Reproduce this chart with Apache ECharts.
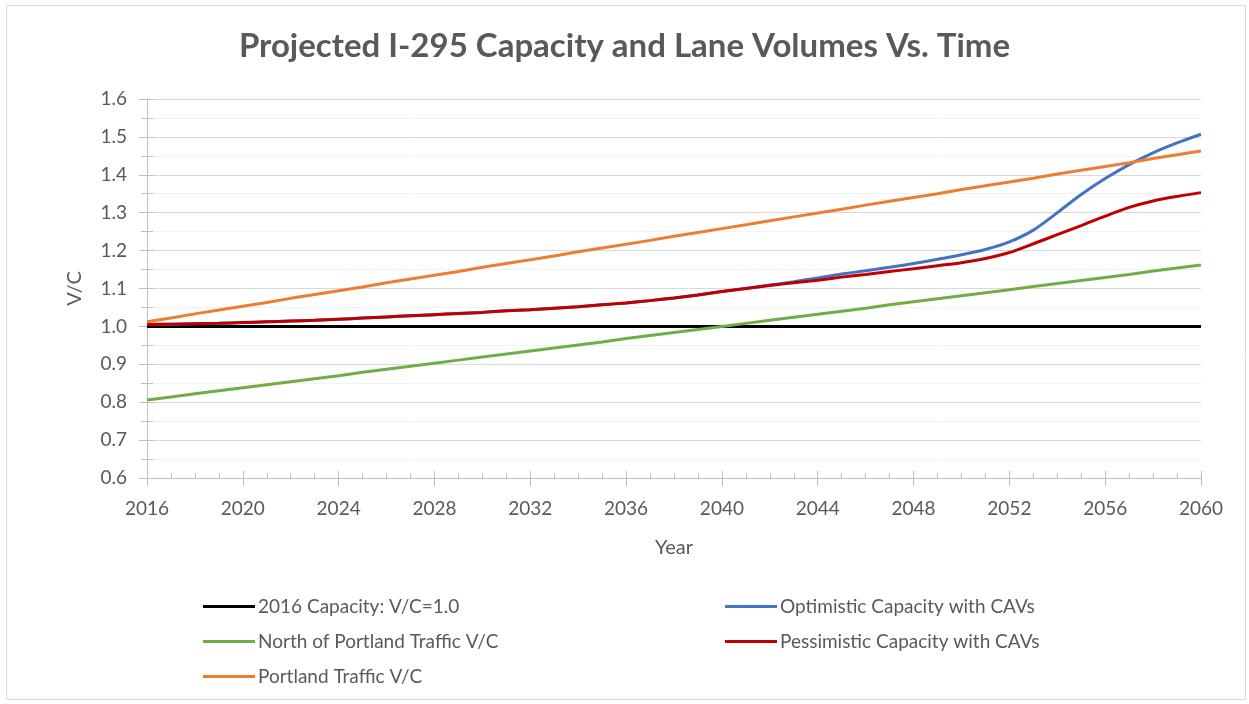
<!DOCTYPE html>
<html>
<head>
<meta charset="utf-8">
<title>Projected I-295 Capacity and Lane Volumes Vs. Time</title>
<script src="https://cdn.jsdelivr.net/npm/echarts@6.0.0/dist/echarts.min.js"></script>
<style>
	html, body { margin: 0; padding: 0; background: #fff; }
	#echart { width: 1249px; height: 704px; }
</style>
</head>
<body>
<div id="echart"></div>
<script>
// years on the x axis, one value per year
var years = [2016,2017,2018,2019,2020,2021,2022,2023,2024,2025,2026,2027,2028,2029,2030,
	2031,2032,2033,2034,2035,2036,2037,2038,2039,2040,2041,2042,2043,2044,2045,
	2046,2047,2048,2049,2050,2051,2052,2053,2054,2055,2056,2057,2058,2059,2060];

var capacity2016 = [1.0,1.0,1.0,1.0,1.0,1.0,1.0,1.0,1.0,1.0,1.0,1.0,1.0,1.0,1.0,
	1.0,1.0,1.0,1.0,1.0,1.0,1.0,1.0,1.0,1.0,1.0,1.0,1.0,1.0,1.0,
	1.0,1.0,1.0,1.0,1.0,1.0,1.0,1.0,1.0,1.0,1.0,1.0,1.0,1.0,1.0];

var optimisticCAV = [1.005,1.006,1.007,1.008,1.010,1.012,1.014,1.016,1.019,1.022,1.025,1.028,1.031,1.034,1.037,
	1.041,1.044,1.048,1.052,1.057,1.062,1.068,1.075,1.083,1.092,1.100,1.109,1.118,1.128,1.138,
	1.147,1.156,1.166,1.177,1.189,1.203,1.223,1.254,1.300,1.348,1.390,1.427,1.458,1.484,1.507];

var northPortland = [0.806,0.814,0.822,0.830,0.838,0.846,0.854,0.862,0.870,0.879,0.887,0.895,0.903,0.911,0.919,
	0.927,0.935,0.943,0.951,0.959,0.968,0.976,0.984,0.992,1.000,1.008,1.016,1.024,1.032,1.040,
	1.048,1.057,1.065,1.073,1.081,1.089,1.097,1.105,1.113,1.121,1.129,1.137,1.146,1.154,1.162];

var pessimisticCAV = [1.005,1.006,1.007,1.008,1.010,1.012,1.014,1.016,1.019,1.022,1.025,1.028,1.031,1.034,1.037,
	1.041,1.044,1.048,1.052,1.057,1.062,1.068,1.075,1.083,1.092,1.100,1.108,1.115,1.122,1.130,
	1.137,1.145,1.152,1.160,1.168,1.179,1.195,1.218,1.242,1.266,1.291,1.314,1.331,1.343,1.353];

var portlandTraffic = [1.012,1.022,1.033,1.043,1.053,1.063,1.074,1.084,1.094,1.104,1.115,1.125,1.135,1.145,1.156,
	1.166,1.176,1.186,1.197,1.207,1.217,1.227,1.238,1.248,1.258,1.268,1.279,1.289,1.299,1.309,
	1.320,1.330,1.340,1.350,1.361,1.371,1.381,1.391,1.402,1.412,1.422,1.432,1.443,1.453,1.463];

var seriesNames = ['2016 Capacity: V/C=1.0', 'Optimistic Capacity with CAVs', 'North of Portland Traffic V/C',
	'Pessimistic Capacity with CAVs', 'Portland Traffic V/C'];
var seriesColors = ['#000000', '#4472C4', '#70AD47', '#C00000', '#ED7D31'];

var FONT = 'Lato, "Open Sans", sans-serif';
var TEXT_COLOR = '#595959';

function pairs(values){
	var out = [];
	for (var i = 0; i < years.length; i++) {
		out.push([years[i], values[i]]);
	}
	return out;
}

function lineSeries(idx, values, smooth){
	return {
		name: seriesNames[idx],
		type: 'line',
		xAxisIndex: 0,
		yAxisIndex: 0,
		data: pairs(values),
		smooth: smooth,
		showSymbol: false,
		symbol: 'none',
		lineStyle: { color: seriesColors[idx], width: 3 },
		itemStyle: { color: seriesColors[idx] },
		z: 2 + idx
	};
}

function showChart(){
	var myChart = echarts.init(document.getElementById('echart'));
	var option = {
		backgroundColor: '#ffffff',
		animation: false,
		title: {
			text: 'Projected I-295 Capacity and Lane Volumes Vs. Time',
			left: 'center',
			top: 25,
			textStyle: { fontFamily: FONT, fontSize: 33, fontWeight: 'bold', color: TEXT_COLOR }
		},
		graphic: [{
			type: 'rect',
			shape: { x: 6.5, y: 5.5, width: 1239, height: 694 },
			style: { fill: 'none', stroke: '#d9d9d9', lineWidth: 1 },
			silent: true
		}],
		legend: [{
			orient: 'vertical',
			left: 203,
			top: 597,
			padding: 0,
			itemWidth: 52,
			itemHeight: 3,
			itemGap: 16,
			icon: 'rect',
			data: [seriesNames[0], seriesNames[2], seriesNames[4]],
			textStyle: { fontFamily: FONT, fontSize: 19, color: TEXT_COLOR, padding: [0, 0, 0, -2] }
		},{
			orient: 'vertical',
			left: 725,
			top: 597,
			padding: 0,
			itemWidth: 52,
			itemHeight: 3,
			itemGap: 16,
			icon: 'rect',
			data: [seriesNames[1], seriesNames[3]],
			textStyle: { fontFamily: FONT, fontSize: 19, color: TEXT_COLOR, padding: [0, 0, 0, -2] }
		}],
		grid: { left: 147, right: 48, top: 99, bottom: 226 },
		xAxis: [{
			type: 'value',
			min: 2016,
			max: 2060,
			interval: 4,
			name: 'Year',
			nameLocation: 'middle',
			nameGap: 60,
			nameTextStyle: { fontFamily: FONT, fontSize: 20, color: TEXT_COLOR },
			axisLine: { show: true, onZero: false, lineStyle: { color: '#bfbfbf', width: 1 } },
			axisTick: { show: true, length: 8, lineStyle: { color: '#bfbfbf' } },
			minorTick: { show: false },
			axisLabel: { margin: 21, fontFamily: FONT, fontSize: 19, color: TEXT_COLOR,
				formatter: function(v){ return String(v); } },
			splitLine: { show: false }
		},{
			type: 'value',
			position: 'bottom',
			min: 2016,
			max: 2060,
			interval: 4,
			axisLine: { show: false },
			axisTick: { show: true, inside: true, length: 7, lineStyle: { color: '#bfbfbf' } },
			minorTick: { show: true, splitNumber: 4, length: 5, lineStyle: { color: '#bfbfbf' } },
			axisLabel: { show: false },
			splitLine: { show: false }
		}],
		yAxis: [{
			type: 'value',
			min: 0.6,
			max: 1.6,
			interval: 0.1,
			name: 'V/C',
			nameLocation: 'middle',
			nameGap: 62,
			nameRotate: 90,
			nameTextStyle: { fontFamily: FONT, fontSize: 20, color: TEXT_COLOR },
			axisLine: { show: true, onZero: false, lineStyle: { color: '#bfbfbf', width: 1 } },
			axisTick: { show: true, length: 8, lineStyle: { color: '#bfbfbf' } },
			minorTick: { show: true, splitNumber: 2, length: 6, lineStyle: { color: '#bfbfbf' } },
			axisLabel: { margin: 20, fontFamily: FONT, fontSize: 19, color: TEXT_COLOR,
				formatter: function(v){ return v.toFixed(1); } },
			splitLine: { show: true, lineStyle: { color: '#d9d9d9', width: 1 } },
			minorSplitLine: { show: true, lineStyle: { color: '#f2f2f2', width: 1 } }
		},{
			type: 'value',
			position: 'left',
			min: 0.6,
			max: 1.6,
			interval: 0.1,
			axisLine: { show: false },
			axisTick: { show: true, inside: true, length: 7, lineStyle: { color: '#bfbfbf' } },
			minorTick: { show: true, splitNumber: 2, length: 6, lineStyle: { color: '#bfbfbf' } },
			axisLabel: { show: false },
			splitLine: { show: false }
		}],
		series: [
			lineSeries(0, capacity2016, false),
			lineSeries(1, optimisticCAV, 0.3),
			lineSeries(2, northPortland, false),
			lineSeries(3, pessimisticCAV, 0.3),
			lineSeries(4, portlandTraffic, false)
		]
	};
	myChart.setOption(option);
}

showChart();
</script>
</body>
</html>
